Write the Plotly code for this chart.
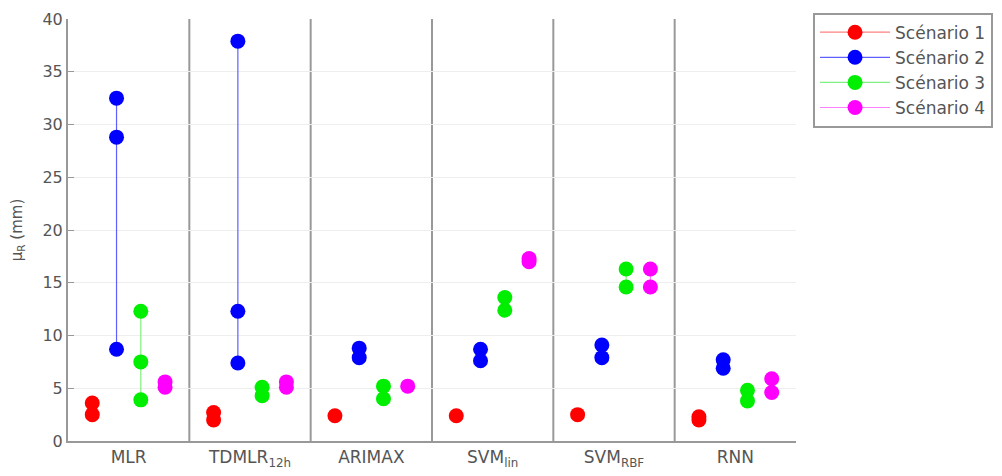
import plotly.graph_objects as go

methods = ["MLR", "TDMLR<sub>12h</sub>", "ARIMAX", "SVM<sub>lin</sub>", "SVM<sub>RBF</sub>", "RNN"]
scenarios = ["Scénario 1", "Scénario 2", "Scénario 3", "Scénario 4"]
colors = ["#ff0000", "#0000ff", "#00ee00", "#ff00ff"]
line_colors = ["#ff8080", "#6060ff", "#80f080", "#ff80ff"]
offsets = [-0.3, -0.1, 0.1, 0.3]

# values per scenario, per method (multiple runs)
s1 = [[3.6, 2.5], [2.7, 2.0], [2.4], [2.4], [2.5], [2.3, 2.0]]
s2 = [[32.5, 28.8, 8.7], [37.9, 12.3, 7.4], [8.8, 7.9], [8.7, 7.6], [9.1, 7.9], [7.7, 6.9]]
s3 = [[12.3, 7.5, 3.9], [5.1, 4.3], [5.2, 4.0], [13.6, 12.4], [16.3, 14.6], [4.8, 3.8]]
s4 = [[5.6, 5.1], [5.6, 5.1], [5.2], [17.3, 17.0], [16.3, 14.6], [5.9, 4.6]]
series = [s1, s2, s3, s4]

fig = go.Figure()
for k, (name, data) in enumerate(zip(scenarios, series)):
    xs, ys = [], []
    for i, vals in enumerate(data):
        for v in vals:
            xs.append(i + offsets[k])
            ys.append(v)
        xs.append(None)
        ys.append(None)
    fig.add_trace(go.Scatter(
        x=xs, y=ys, name=name, mode="lines+markers",
        line=dict(color=line_colors[k], width=1.2),
        marker=dict(color=colors[k], size=15),
        connectgaps=False,
    ))

for i in range(len(methods) - 1):
    fig.add_vline(x=i + 0.5, line=dict(color="#999999", width=2), layer="below")

fig.update_layout(
    width=1002, height=476,
    margin=dict(l=60, r=214, t=11, b=43, autoexpand=False),
    plot_bgcolor="white", paper_bgcolor="white",
    font=dict(family="DejaVu Sans", size=15, color="#555555"),
    legend=dict(
        x=1.0234, xanchor="left", y=1.015, yanchor="top",
        bordercolor="#999999", borderwidth=2, bgcolor="white",
        font=dict(size=17, color="#555555"),
        tracegroupgap=0, itemwidth=70,
    ),
)
fig.update_xaxes(
    range=[-0.5, len(methods) - 0.5], automargin=False,
    tickmode="array", tickvals=list(range(len(methods))), ticktext=methods,
    showgrid=False, zeroline=False,
    showline=True, linecolor="#999999", linewidth=2,
    ticks="", tickfont=dict(size=17, color="#555555"),
)
fig.update_yaxes(
    range=[0, 40], dtick=5, automargin=False, ticklabeloverflow="allow",
    showgrid=True, gridcolor="#eeeeee", gridwidth=1, zeroline=False,
    showline=True, linecolor="#999999", linewidth=2,
    ticks="inside", ticklen=6, tickcolor="#999999",
    tickfont=dict(size=16, color="#555555"),
    title=dict(text="μ<sub>R</sub> (mm)", font=dict(size=15, color="#555555"), standoff=16),
)

fig.write_html("out.html")
